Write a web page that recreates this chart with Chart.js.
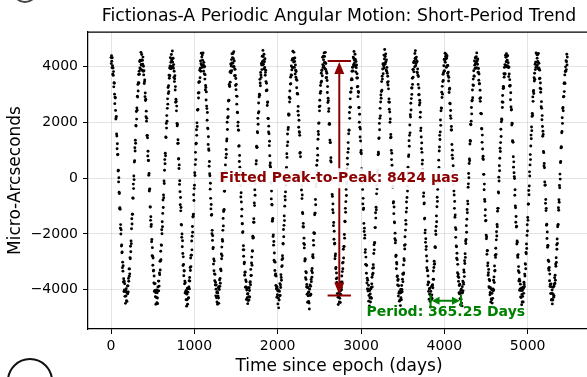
<!DOCTYPE html>
<html>
<head>
<meta charset="utf-8">
<script src="https://cdn.jsdelivr.net/npm/chart.js@4/dist/chart.umd.min.js"></script>
<style>
  html, body { margin: 0; padding: 0; overflow: hidden; background: #fff; }
  #wrap { width: 600px; height: 377px; }
</style>
</head>
<body>
<div id="wrap"><canvas id="motionChart" width="600" height="377"></canvas></div>
<script>
// Astrometric samples, one row per orbital cycle (micro-arcseconds)
const firstDay = 0;
const cadenceDays = 3.04375;
const microArcsec = [
  4332,4116,4399,4200,3970,4328,4036,3732,3958,3693,3828,3282,3428,3413,3020,2678,2908,2881,2436,2124,2166,2222,1593,1519,1062,1240,846,859,260,290,-130,20,-500,-549,-1086,-1060,-1112,-1789,-1663,-2002,-1846,-2434,-2396,-2671,-2648,-3208,-3010,-3333,-3138,-3722,-3608,-4063,-3698,-4012,-3786,-4238,-4060,-4490,-4049,-4226,-3962,-4395,-4099,-4420,-4090,-3868,-4146,-3862,-4078,-3593,-3698,-3252,-3518,-3253,-3430,-2848,-2888,-2441,-2636,-2254,-2346,-1812,-1453,-1639,-1292,-1290,-706,-719,-210,-370,80,-50,580,629,1096,980,1362,1259,1893,1872,2396,2124,2526,2441,2948,2918,3370,3133,3428,3722,3418,3843,3738,4192,3956,4238,3920,4220,4519,4086,
  4060,4440,4250,3880,4230,4090,4350,3840,4020,3710,3860,3400,3460,3530,2930,3060,2790,2840,2210,2410,2050,2150,1530,1540,1450,800,970,640,640,110,170,-460,-400,-380,-1030,-1030,-1510,-1380,-1730,-1660,-2280,-2200,-2780,-2490,-2800,-3120,-2860,-3330,-3300,-3760,-3510,-4060,-3790,-4030,-3780,-4250,-4100,-4520,-4040,-4280,-4010,-4470,-4110,-4300,-4500,-3900,-4040,-3690,-4040,-3690,-3870,-3400,-3460,-2980,-3290,-2970,-2620,-2920,-2390,-2410,-1850,-1990,-1560,-1740,-1260,-780,-1050,-600,-700,-100,-190,290,670,520,900,810,1480,1460,1970,1800,2250,2050,2510,2850,2660,3260,3040,3320,3110,3700,3590,3960,3680,4030,4330,3940,4160,3940,4440,4220,
  4270,4010,4570,4170,4000,4310,3950,4080,3620,3840,3470,3570,3680,3170,3290,2730,2840,2760,2420,2590,1970,1880,1930,1250,1380,1260,690,700,350,480,-220,-90,-480,-950,-690,-1170,-1050,-1660,-1680,-2120,-2000,-2460,-2240,-2700,-3130,-2820,-3090,-3500,-3320,-3330,-3790,-3690,-4120,-3750,-4100,-4050,-4360,-4030,-4590,-4160,-4360,-3950,-4520,-4090,-4310,-3960,-4290,-3900,-3680,-3970,-3560,-3690,-3200,-3310,-2860,-3170,-2760,-2760,-2250,-2570,-2080,-1730,-1940,-1390,-1360,-1290,-590,-800,-370,-250,200,100,490,930,670,1230,1260,1740,1540,1990,1860,2450,2450,2470,3060,2880,3440,3070,3470,3460,3880,3610,3950,4210,3840,4110,4490,4070,4350,3980,
  4420,4240,4030,4500,4080,3840,4160,3990,3740,4010,3560,3720,3170,3330,3260,2810,3100,2590,2500,2080,2360,1800,1780,1210,1490,1050,1000,430,600,160,90,-390,-180,-720,-1100,-940,-1330,-1300,-1990,-1870,-2230,-2060,-2530,-2480,-3080,-2900,-3320,-2970,-3430,-3680,-3450,-3830,-3730,-4220,-3980,-3830,-4290,-4100,-4440,-4070,-4520,-4120,-4230,-3930,-4300,-4490,-3890,-3990,-3650,-3880,-3600,-3770,-3260,-3260,-3320,-2720,-2890,-2470,-2780,-2200,-2260,-1870,-1440,-1710,-1190,-1150,-1120,-470,-460,10,-70,480,250,740,1030,860,1340,1410,2010,1750,2170,2480,2210,2770,2790,2800,3370,3320,3290,3810,3450,3840,4100,3790,4030,4260,3860,4470,4140,4330,
  4130,4480,4000,4290,4540,4010,4210,3680,3920,3910,3690,3330,3580,3180,3370,2950,2660,2940,2370,2350,1880,2010,1730,1720,1150,1170,600,820,400,30,260,-270,-670,-520,-850,-1360,-1110,-1630,-1630,-1950,-1920,-2570,-2420,-2800,-2570,-3070,-3010,-3480,-3380,-3360,-3910,-3650,-3900,-3710,-4350,-4010,-3940,-4290,-4150,-4500,-4140,-4390,-3930,-4250,-4370,-3930,-4030,-4260,-3740,-3710,-3820,-3270,-3490,-3490,-3040,-2830,-3120,-2610,-2610,-2080,-2150,-2120,-1580,-1450,-1580,-890,-980,-410,-610,-200,130,-20,510,630,1150,1100,1110,1670,1630,2150,1940,2340,2700,2390,2920,3020,2980,3550,3420,3320,3800,3710,3620,4120,4070,3900,4380,4180,4070,4590,
  4370,4090,4230,4450,3920,4180,3980,4290,3700,3800,3880,3470,3140,3410,3150,3170,2610,2720,2740,2150,2140,1660,1870,1600,1170,1330,810,460,550,400,-150,-170,-740,-460,-940,-960,-1540,-1490,-1440,-2090,-2030,-2400,-2270,-2940,-2680,-3000,-3310,-3010,-3480,-3430,-3850,-3510,-3970,-3900,-4270,-3900,-4180,-4040,-4510,-4000,-4300,-4650,-4040,-4370,-4060,-4210,-3780,-4210,-3830,-3920,-3460,-3560,-3660,-3170,-2920,-3140,-2780,-2880,-2340,-2360,-1840,-2100,-1690,-1350,-1520,-1000,-650,-780,-490,-30,-260,360,390,880,750,1170,1590,1300,1750,1820,2310,2260,2290,2910,2740,3130,2860,3380,3630,3390,3710,4030,3700,3890,4240,3980,4290,4560,3980,4290,
  4170,4520,4310,3980,4190,4320,3740,4070,3880,3630,3830,3550,3250,3520,3040,3040,3020,2410,2580,2260,1830,2080,1670,1640,1540,900,930,770,180,240,100,-420,-260,-730,-600,-1230,-1270,-1740,-1620,-1750,-2340,-2150,-2500,-2380,-2970,-2890,-2920,-3570,-3350,-3630,-3390,-3900,-3810,-4160,-3900,-4450,-3920,-4220,-4100,-4420,-4080,-4480,-4690,-3980,-4200,-3830,-4200,-3880,-4160,-3630,-3710,-3320,-3550,-3240,-3390,-2810,-2740,-2850,-2230,-2400,-1950,-1970,-1980,-1310,-1250,-1250,-760,-950,-210,-300,40,470,260,640,1070,830,1400,1680,1570,1970,1990,2570,2420,2800,2590,3050,3330,3120,3440,3770,3480,3870,3890,3680,4340,4080,3980,4380,4250,4030,
  4500,4150,4370,3940,4160,4520,3910,4120,3610,3830,3620,3770,3510,3080,3290,2720,2870,2780,2400,2500,1940,1970,1940,1370,1280,1280,630,740,580,10,-60,10,-580,-650,-1130,-920,-1240,-1700,-1590,-2190,-1900,-2360,-2330,-2890,-2790,-2720,-3250,-3200,-3610,-3400,-3740,-3580,-4140,-3870,-3870,-4270,-4530,-3930,-4240,-4100,-4440,-4150,-4310,-3890,-4460,-4040,-4170,-3730,-3920,-4000,-3510,-3720,-3350,-3040,-3250,-3020,-2550,-2860,-2450,-2450,-2020,-2150,-1540,-1560,-1080,-1220,-840,-400,-620,-150,-200,330,720,500,930,1280,1060,1600,1730,1720,2360,2150,2550,2850,2550,3090,3100,3530,3230,3570,3840,3540,3980,3990,3850,4350,4070,4300,4550,4120,
  4230,4020,4450,4270,4040,3820,4190,3970,4070,3600,3750,3280,3600,3300,2930,3120,3080,2530,2540,2010,2300,1830,1480,1770,1340,930,1000,880,340,270,-180,-130,-400,-920,-720,-1120,-1070,-1620,-1910,-1790,-2150,-2040,-2660,-2560,-3090,-2830,-3110,-3410,-3130,-3760,-3590,-3970,-3660,-4050,-3980,-3840,-4410,-4210,-4020,-4580,-4030,-4300,-4150,-4440,-3970,-4280,-3920,-4310,-3790,-3550,-3900,-3460,-3230,-3410,-3100,-3210,-2700,-2390,-2570,-2310,-2310,-1770,-1770,-1240,-1430,-1040,-1130,-560,-250,-380,220,190,290,840,940,880,1430,1450,1970,1740,2150,2510,2240,2740,2990,2870,3110,3470,3160,3660,3560,3920,4100,3750,4110,4040,4420,3960,4280,4620,
  4090,4370,4150,4460,4180,3890,4250,3840,3980,3770,3440,3660,3350,3470,3210,2740,2850,2480,2730,2380,2010,2130,1450,1570,1470,1000,670,900,470,80,210,-320,-280,-890,-840,-1270,-1030,-1570,-1600,-2170,-1970,-2320,-2230,-2810,-2760,-3250,-3020,-3080,-3530,-3510,-3830,-3670,-3620,-4230,-3860,-4130,-4080,-4410,-4070,-4370,-4120,-4570,-3990,-4290,-4100,-4360,-3850,-3990,-4070,-3620,-3430,-3710,-3450,-3110,-3400,-2890,-2950,-2410,-2540,-2100,-2380,-1860,-1510,-1650,-1210,-850,-1070,-690,-280,-460,60,400,210,780,840,1350,1150,1540,1910,1630,2280,2200,2690,2450,2860,3240,3010,3240,3590,3370,3900,3630,3910,4150,3820,4200,4160,4000,4480,4310,
  4580,4040,4270,4120,4350,4180,3810,4190,3790,3920,3700,3370,3650,3000,3240,3000,2630,2800,2710,2190,2370,1710,1800,1480,1060,1270,930,510,650,320,-90,50,-650,-530,-920,-890,-1460,-1430,-1960,-1860,-2300,-2170,-2560,-2450,-2790,-3210,-2970,-3320,-3310,-3820,-3510,-3720,-4060,-3740,-4340,-3970,-4160,-3950,-4420,-4190,-4620,-4060,-4260,-4350,-3880,-4190,-4310,-3840,-3820,-3930,-3620,-3330,-3630,-3200,-2980,-3090,-3070,-2470,-2460,-2490,-1890,-2020,-1730,-1350,-1560,-1020,-680,-830,-400,30,-140,160,650,390,980,1120,1540,1390,1660,2090,1900,2420,2520,2510,3090,2900,3300,3020,3470,3730,3510,3790,4040,3850,4270,3850,4220,4490,4160,4370,
  4290,4450,3980,4310,4020,4390,4040,3770,4050,3680,3810,3490,3620,3080,3190,3230,2690,2670,2240,2430,2150,1730,1860,1730,1210,830,1010,710,240,450,-240,-70,-460,-600,-1080,-830,-1400,-1320,-1770,-2120,-1840,-2430,-2460,-2870,-2690,-2920,-3390,-3090,-3520,-3440,-3700,-3560,-4110,-3850,-4150,-3800,-4320,-4120,-4540,-4030,-4340,-3980,-4480,-4120,-4580,-3890,-4110,-3690,-4040,-3730,-3800,-3290,-3370,-3530,-2960,-3060,-2710,-2840,-2250,-2340,-2200,-1700,-1940,-1470,-1120,-1240,-820,-920,-320,-200,170,20,530,690,630,1230,1360,1330,1940,1920,2050,2540,2310,2770,2800,3170,2890,3350,3560,3330,3860,3670,3660,4210,4060,3940,4330,4120,4310,3960,
  4360,4180,4500,3960,4210,4090,4280,3800,3810,3940,3520,3740,3390,3390,2860,3160,2760,2890,2330,2320,2310,1790,1770,1290,1550,1050,710,790,670,140,140,-410,-210,-760,-830,-1340,-1130,-1530,-1510,-2040,-2170,-2100,-2730,-2610,-2590,-3140,-3040,-3480,-3390,-3270,-3890,-3630,-3930,-3680,-4180,-4100,-3930,-4440,-4130,-4330,-3990,-4360,-4130,-4480,-4010,-4310,-3970,-4040,-3660,-4010,-3540,-3740,-3150,-3330,-3310,-2760,-2840,-2510,-2730,-2210,-1920,-2070,-1660,-1740,-1180,-1080,-1080,-490,-530,40,-100,450,270,720,1080,960,1280,1760,1500,2030,2130,2100,2740,2540,2970,2730,3220,3300,3240,3750,3630,3980,3730,4080,3750,4410,4050,4340,4180,4470,
  4000,4390,4240,4040,4400,4010,4150,3970,3650,3990,3740,3310,3540,3310,3330,2820,3070,2560,2450,2470,1910,1980,1960,1350,1320,1290,770,400,590,200,60,-10,-610,-410,-990,-1060,-1580,-1370,-1750,-1720,-2360,-2250,-2300,-2780,-2840,-2740,-3320,-3170,-3690,-3380,-3620,-4020,-3690,-3970,-3800,-4260,-4030,-4280,-3950,-4540,-4170,-4440,-4030,-4240,-3910,-4440,-3960,-4130,-3730,-3810,-3890,-3440,-3510,-3070,-3090,-3250,-2660,-2710,-2360,-2520,-2050,-1670,-1890,-1410,-1510,-930,-920,-440,-590,-280,230,80,480,850,670,1160,1550,1420,1840,1710,2220,2330,2260,2920,2760,3110,3150,3040,3610,3490,3770,3550,4090,3900,4170,3980,4500,4170,4020,4440,
  4310,4070,4430,4190,3930,4480,3960,4130,3930,3570,3880,3590,3230,3420,3090,3200,2570,2750,2510,2100,2250,1860,1510,1690,1570,960,920,440,530,380,-130,-250,-240,-900,-760,-1160,-1080,-1690,-1650,-2160,-1930,-2480,-2410,-2420,-2940,-3240,-2990,-3300,-3200,-3680,-3440,-3880,-3810,-4140,-3890,-3790,-4370,-4130,-4350,-4010,-4510,-4140,-4370,-3910,-4180,-4270,-3880,-4220,-3810,-3570,-3770,-3480,-3660,-3080,-3160,-2850,-3020,-2390,-2550,-2180,-2340,-1740,-1680,-1660,-1060,-1150,-770,-860,-260,-340,150,-30,560,600,1090,1130,1110,1630,1680,2170,1970,2500,2540,2420,2920,2940,3400,3110,3430,3710,3400,3830,4000,3840,4220,3900,4180,4450,4070,4350
];

const xTicks = [0, 1000, 2000, 3000, 4000, 5000];
const yTicks = [-4000, -2000, 0, 2000, 4000];
const xRange = [-276, 5748];
const yRange = [-5410, 5250];
const chartTitle = 'Fictionas-A Periodic Angular Motion: Short-Period Trend';

// Fit results shown on the plot
const fittedAmplitude = 4212;          // half of peak-to-peak
const peakArrowDay = 2739.4;
const peakCapHalfWidth = 140;
const periodDays = 365.25;
const periodStartDay = 3835.1;
const periodArrowLevel = -4400;
const periodLabelLevel = -4800;

const FONT = "'DejaVu Sans', sans-serif";
const DARK_RED = '#8b0000';
const GREEN = '#008000';

const points = microArcsec.map((v, i) => ({ x: firstDay + i * cadenceDays, y: v }));

function minusSign(v) {
    return String(v).replace('-', '\u2212');
}

function arrowHead(ctx, tipX, tipY, dirX, dirY, len, halfW) {
    const bx = tipX - dirX * len, by = tipY - dirY * len;
    ctx.beginPath();
    ctx.moveTo(tipX, tipY);
    ctx.lineTo(bx - dirY * halfW, by + dirX * halfW);
    ctx.lineTo(bx + dirY * halfW, by - dirX * halfW);
    ctx.closePath();
    ctx.fill();
}

const annotationLayer = {
    id: 'annotationLayer',
    afterDatasetsDraw(chart) {
        const { ctx, chartArea, scales: { x, y } } = chart;
        ctx.save();

        // title centred over the plotting area
        ctx.fillStyle = '#000';
        ctx.font = '17.3px ' + FONT;
        ctx.textAlign = 'center';
        ctx.textBaseline = 'middle';
        ctx.fillText(chartTitle, (chartArea.left + chartArea.right) / 2, 17);

        // peak-to-peak arrow with caps
        const ax = x.getPixelForValue(peakArrowDay);
        const yTop = y.getPixelForValue(fittedAmplitude);
        const yBot = y.getPixelForValue(-fittedAmplitude);
        ctx.strokeStyle = DARK_RED;
        ctx.fillStyle = DARK_RED;
        ctx.lineWidth = 2;
        ctx.beginPath();
        ctx.moveTo(x.getPixelForValue(peakArrowDay - peakCapHalfWidth), yTop);
        ctx.lineTo(x.getPixelForValue(peakArrowDay + peakCapHalfWidth), yTop);
        ctx.moveTo(x.getPixelForValue(peakArrowDay - peakCapHalfWidth), yBot);
        ctx.lineTo(x.getPixelForValue(peakArrowDay + peakCapHalfWidth), yBot);
        ctx.stroke();
        ctx.beginPath();
        ctx.moveTo(ax, yTop + 10);
        ctx.lineTo(ax, yBot - 10);
        ctx.stroke();
        arrowHead(ctx, ax, yTop + 1, 0, -1, 12, 5);
        arrowHead(ctx, ax, yBot - 1, 0, 1, 12, 5);

        // peak-to-peak label on a white box
        const p2pText = 'Fitted Peak-to-Peak: ' + (fittedAmplitude * 2) + ' \u00b5as';
        ctx.font = 'bold 14px ' + FONT;
        const tw = ctx.measureText(p2pText).width;
        const ly = y.getPixelForValue(0);
        ctx.fillStyle = 'rgba(255,255,255,0.92)';
        ctx.beginPath();
        ctx.roundRect(ax - tw / 2 - 4, ly - 10, tw + 8, 20, 3);
        ctx.fill();
        ctx.fillStyle = DARK_RED;
        ctx.fillText(p2pText, ax, ly);

        // period arrow between two successive minima
        const px0 = x.getPixelForValue(periodStartDay);
        const px1 = x.getPixelForValue(periodStartDay + periodDays);
        const py = y.getPixelForValue(periodArrowLevel);
        ctx.strokeStyle = GREEN;
        ctx.fillStyle = GREEN;
        ctx.lineWidth = 2;
        ctx.beginPath();
        ctx.moveTo(px0 + 7, py);
        ctx.lineTo(px1 - 7, py);
        ctx.moveTo(px0, py - 6);
        ctx.lineTo(px0, py + 6);
        ctx.moveTo(px1, py - 6);
        ctx.lineTo(px1, py + 6);
        ctx.stroke();
        arrowHead(ctx, px0 + 1, py, -1, 0, 8, 4);
        arrowHead(ctx, px1 - 1, py, 1, 0, 8, 4);

        ctx.font = 'bold 14px ' + FONT;
        ctx.fillText('Period: ' + periodDays + ' Days', (px0 + px1) / 2, y.getPixelForValue(periodLabelLevel));

        // top and right frame lines
        ctx.strokeStyle = '#000';
        ctx.lineWidth = 1.25;
        ctx.beginPath();
        ctx.moveTo(chartArea.left, chartArea.top);
        ctx.lineTo(chartArea.right, chartArea.top);
        ctx.lineTo(chartArea.right, chartArea.bottom);
        ctx.stroke();

        // copyright marks at the page corners
        ctx.lineWidth = 2;
        ctx.strokeStyle = '#111';
        ctx.beginPath();
        ctx.arc(30, 381, 22, 0, Math.PI * 2);
        ctx.stroke();
        ctx.fillStyle = '#111';
        ctx.font = '30px ' + FONT;
        ctx.fillText('C', 30, 392);
        ctx.strokeStyle = '#444';
        ctx.beginPath();
        ctx.arc(25, -10, 12, 0, Math.PI);
        ctx.stroke();

        ctx.restore();
    }
};

Chart.defaults.font.family = FONT;
Chart.defaults.color = '#000';

const gridStyle = {
    color: 'rgba(176,176,176,0.35)',
    lineWidth: 1,
    tickColor: '#000',
    tickLength: 5,
    drawTicks: true
};

new Chart(document.getElementById('motionChart'), {
    type: 'scatter',
    data: {
        datasets: [{
            data: points,
            backgroundColor: '#000',
            borderWidth: 0,
            pointRadius: 1.45,
            pointHoverRadius: 1.45
        }]
    },
    options: {
        responsive: false,
        animation: false,
        events: [],
        layout: { padding: { left: 0, right: 10, top: 32, bottom: 0 } },
        plugins: {
            legend: { display: false },
            tooltip: { enabled: false },
            title: { display: false }
        },
        scales: {
            x: {
                type: 'linear',
                min: xRange[0],
                max: xRange[1],
                afterBuildTicks: s => { s.ticks = xTicks.map(v => ({ value: v })); },
                afterFit: s => { s.height = 48; },
                grid: gridStyle,
                border: { display: true, color: '#000', width: 1.25 },
                ticks: { font: { size: 14 }, color: '#000', padding: 4, maxRotation: 0, callback: v => minusSign(v) },
                title: { display: true, text: 'Time since epoch (days)', font: { size: 17 }, color: '#000', padding: { top: 0, bottom: 0 } }
            },
            y: {
                type: 'linear',
                min: yRange[0],
                max: yRange[1],
                afterBuildTicks: s => { s.ticks = yTicks.map(v => ({ value: v })); },
                afterFit: s => { s.width = 88; },
                grid: gridStyle,
                border: { display: true, color: '#000', width: 1.25 },
                ticks: { font: { size: 14 }, color: '#000', padding: 5, callback: v => minusSign(v) },
                title: { display: true, text: 'Micro-Arcseconds', font: { size: 17 }, color: '#000', padding: { top: 5, bottom: 0 } }
            }
        }
    },
    plugins: [annotationLayer]
});
</script>
</body>
</html>
